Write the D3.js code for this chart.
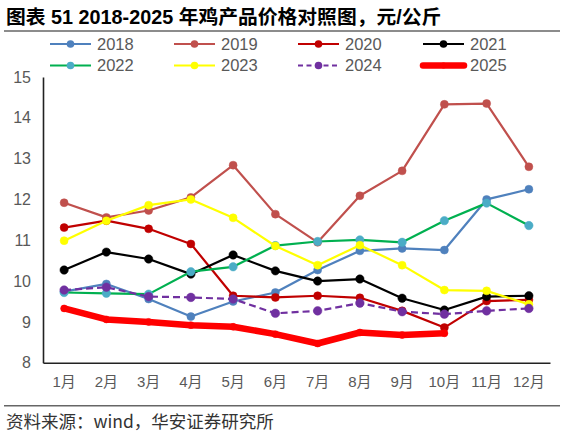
<!DOCTYPE html>
<html><head><meta charset="utf-8">
<script src="https://cdn.jsdelivr.net/npm/d3@7/dist/d3.min.js"></script>
<style>
html,body{margin:0;padding:0;background:#fff;}
svg{display:block;}
</style></head>
<body>
<svg id="chart" width="564" height="436"></svg>
<script>
const months = ['1月','2月','3月','4月','5月','6月','7月','8月','9月','10月','11月','12月'];
const years = ['2018','2019','2020','2021','2022','2023','2024','2025'];
const y2018 = [9.74, 9.93, 9.56, 9.13, 9.50, 9.72, 10.27, 10.74, 10.80, 10.76, 12.00, 12.25];
const y2019 = [11.92, 11.56, 11.73, 12.05, 12.84, 11.64, 10.95, 12.09, 12.70, 14.33, 14.35, 12.80];
const y2020 = [11.31, 11.48, 11.28, 10.91, 9.64, 9.60, 9.64, 9.59, 9.27, 8.86, 9.51, 9.54];
const y2021 = [10.27, 10.71, 10.54, 10.17, 10.64, 10.25, 10.00, 10.05, 9.58, 9.29, 9.62, 9.64];
const y2022 = [9.72, 9.70, 9.68, 10.23, 10.35, 10.87, 10.97, 11.01, 10.95, 11.48, 11.91, 11.36];
const y2023 = [10.99, 11.48, 11.86, 12.00, 11.55, 10.86, 10.39, 10.88, 10.39, 9.78, 9.76, 9.43];
const y2024 = [9.78, 9.85, 9.62, 9.60, 9.56, 9.21, 9.27, 9.46, 9.25, 9.19, 9.27, 9.33];
const y2025 = [9.33, 9.06, 9.00, 8.92, 8.88, 8.70, 8.47, 8.74, 8.68, 8.72, null, null];
const yTicks = [8, 9, 10, 11, 12, 13, 14, 15];

const seriesValues = [y2018, y2019, y2020, y2021, y2022, y2023, y2024, y2025];
const styles = [
  {line:'#4f81bd', marker:'#4f81bd', w:2.2, dash:null, r:4},
  {line:'#c0504d', marker:'#c0504d', w:2.2, dash:null, r:4},
  {line:'#c00000', marker:'#c00000', w:2.2, dash:null, r:4},
  {line:'#000000', marker:'#000000', w:2.2, dash:null, r:4.2},
  {line:'#00b050', marker:'#4bacc6', w:2.2, dash:null, r:4.2},
  {line:'#ffff00', marker:'#ffff00', w:2.2, dash:null, r:4},
  {line:'#7030a0', marker:'#7030a0', w:2.2, dash:'7,4', r:4.3},
  {line:'#ff0000', marker:'#ff0000', w:6.5, dash:null, r:3.5}
];
const series = years.map((y,i)=>({name:y, values:seriesValues[i], st:styles[i]}));

const svg = d3.select('#chart');
const numFont = '"Liberation Sans","Noto Sans CJK SC",sans-serif';

// title
svg.append('text').attr('x',6).attr('y',23.5)
  .attr('font-family','"Liberation Sans","Noto Sans CJK SC",sans-serif')
  .attr('font-weight','bold').attr('font-size',19.8).attr('fill','#000')
  .text('图表 51 2018-2025 年鸡产品价格对照图，元/公斤');
svg.append('line').attr('x1',4).attr('x2',560).attr('y1',31).attr('y2',31)
  .attr('stroke','#666').attr('stroke-width',1.6);

// scales
const x = d3.scaleBand().domain(months).range([43,550]);
const cx = m => x(m) + x.bandwidth()/2;
const y = d3.scaleLinear().domain([8,15]).range([362.7,77]);

// axes
const gy = svg.append('g').attr('transform','translate(43,0)')
  .call(d3.axisLeft(y).tickValues(yTicks).tickSize(0).tickPadding(12).tickFormat(d3.format('d')));
gy.select('.domain').attr('stroke','#222').attr('stroke-width',1.6);
gy.selectAll('text').attr('font-family',numFont).attr('font-size',16).attr('fill','#595959');

const gx = svg.append('g').attr('transform','translate(0,362.7)')
  .call(d3.axisBottom(x).tickSize(0).tickPadding(14));
gx.select('.domain').attr('stroke','#222').attr('stroke-width',1.6);
gx.selectAll('text').attr('font-family',numFont).attr('font-size',15).attr('fill','#595959');

// lines
const lineGen = d3.line().defined(d=>d.v!=null).x(d=>cx(d.m)).y(d=>y(d.v));
series.forEach(s=>{
  const pts = months.map((m,i)=>({m, v:s.values[i]}));
  const g = svg.append('g');
  g.append('path').datum(pts).attr('d',lineGen)
    .attr('fill','none').attr('stroke',s.st.line).attr('stroke-width',s.st.w)
    .attr('stroke-linejoin','round').attr('stroke-linecap', s.name==='2025'?'round':'butt')
    .attr('stroke-dasharray',s.st.dash);
  g.selectAll('circle').data(pts.filter(d=>d.v!=null)).join('circle')
    .attr('cx',d=>cx(d.m)).attr('cy',d=>y(d.v)).attr('r',s.st.r)
    .attr('fill',s.st.marker).attr('stroke',s.st.marker).attr('stroke-width',0.5);
});

// legend
const colX = [50,174,298,423];
const rowY = [44,65.5];
series.forEach((s,i)=>{
  const lx = colX[i%4], ly = rowY[Math.floor(i/4)];
  const g = svg.append('g');
  g.append('line').attr('x1',lx).attr('x2',lx+41).attr('y1',ly).attr('y2',ly)
    .attr('stroke',s.st.line).attr('stroke-width', s.name==='2025'?6.5:2)
    .attr('stroke-linecap', s.name==='2025'?'round':'butt')
    .attr('stroke-dasharray', s.st.dash? '5,3.5':null);
  g.append('circle').attr('cx',lx+20.5).attr('cy',ly).attr('r',s.name==='2025'?3:3.8)
    .attr('fill',s.st.marker);
  g.append('text').attr('x',lx+47).attr('y',ly).attr('dy','0.36em')
    .attr('font-family',numFont).attr('font-size',16.5).attr('fill','#595959').text(s.name);
});

// source
svg.append('line').attr('x1',4).attr('x2',560).attr('y1',405.7).attr('y2',405.7)
  .attr('stroke','#666').attr('stroke-width',1.4);
svg.append('text').attr('x',6).attr('y',422).attr('dy','0.35em')
  .attr('font-family','"Noto Sans CJK SC",sans-serif').attr('font-size',17.5).attr('fill','#333')
  .text('资料来源：wind，华安证券研究所');
</script>
</body></html>
